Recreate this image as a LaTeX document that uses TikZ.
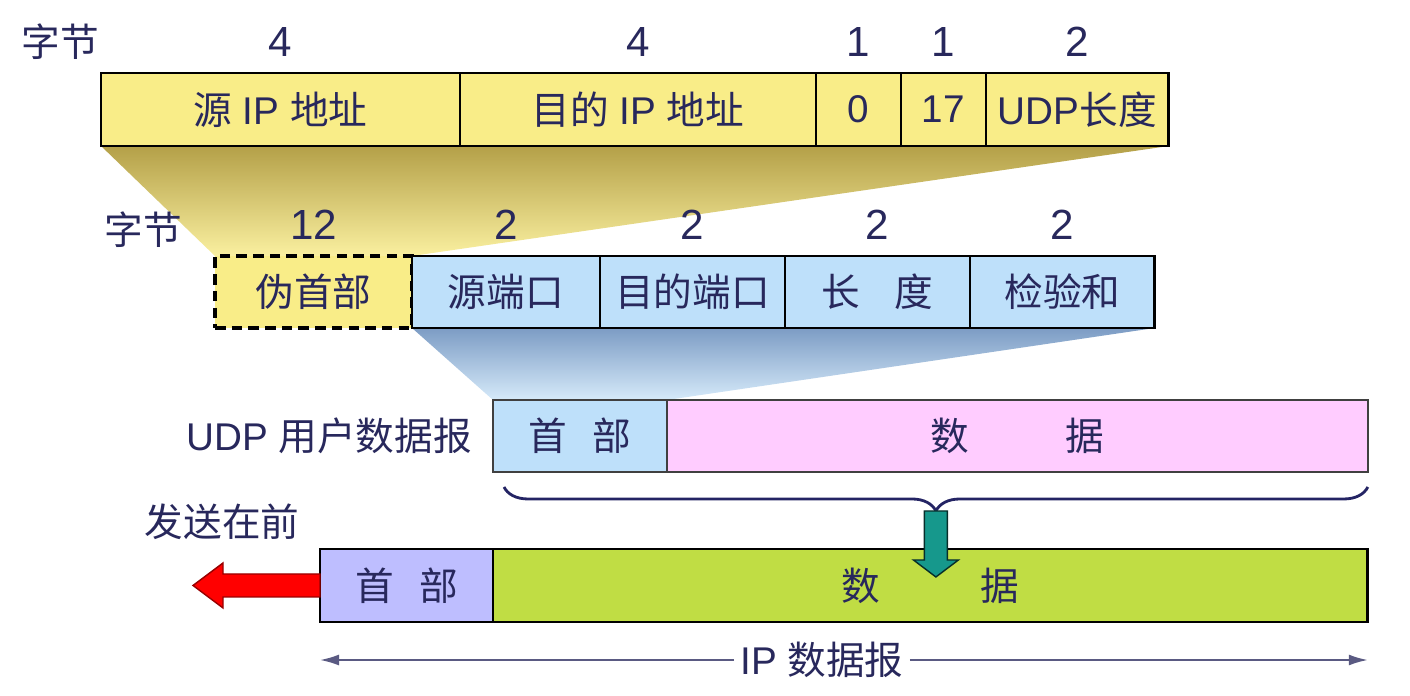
\documentclass[tikz,border=0pt]{standalone}
\usepackage{fontspec}
\setmainfont{Liberation Sans}
\newfontfamily\cjk{Noto Sans CJK SC}
\usetikzlibrary{positioning, arrows.meta, backgrounds, decorations.pathreplacing}

\definecolor{ink}{RGB}{40,40,92}
\definecolor{ipyellow}{RGB}{249,237,136}
\definecolor{udpblue}{RGB}{190,224,250}
\definecolor{datapink}{RGB}{255,204,255}
\definecolor{hdrlilac}{RGB}{190,190,255}
\definecolor{datagreen}{RGB}{192,221,68}
\definecolor{arrowteal}{RGB}{22,152,140}
\definecolor{bracenavy}{RGB}{36,36,100}
\definecolor{dimgray}{RGB}{90,90,130}

\begin{document}
\begin{tikzpicture}[x=0.02cm, y=-0.02cm,
    cell/.style={draw, line width=0.8pt, anchor=north west, outer sep=0pt, inner sep=0pt,
      minimum height=1.46cm, text=ink, font=\fontsize{22}{26}\selectfont},
    num/.style={text=ink, inner sep=0pt, font=\fontsize{24}{28}\selectfont},
    lbl/.style={text=ink, font=\fontsize{22}{26}\selectfont},
    frame/.style={draw, line width=1.6pt},
    brace/.style={decorate, decoration={brace, mirror, amplitude=0.48cm}, draw=bracenavy, line width=1.6pt},
    block/.style={line width=0.8pt, line join=miter},
    dim/.style={draw=dimgray, line width=1.1pt, -{Latex[length=0.38cm, width=0.22cm]}}
  ]
  \useasboundingbox (0,0) rectangle (1410,696);

  % pseudo header fields
  \node[cell, fill=ipyellow, minimum width=7.18cm] (srcip)  at (101,73)           {{\cjk 源} IP {\cjk 地址}};
  \node[cell, fill=ipyellow, minimum width=7.12cm] (dstip)  at (srcip.north east) {{\cjk 目的} IP {\cjk 地址}};
  \node[cell, fill=ipyellow, minimum width=1.70cm] (zero)   at (dstip.north east) {0};
  \node[cell, fill=ipyellow, minimum width=1.70cm] (proto)  at (zero.north east)  {17};
  \node[cell, fill=ipyellow, minimum width=3.66cm] (udplen) at (proto.north east) {UDP{\cjk 长度}};
  \draw[frame] (srcip.north west) rectangle (udplen.south east);

  \node[lbl] (bytes1) at (60,42) {\cjk 字节};
  \node[num, above=0.32cm of srcip]  {4};
  \node[num, above=0.32cm of dstip]  {4};
  \node[num, above=0.32cm of zero]   {1};
  \node[num, above=0.32cm of proto]  {1};
  \node[num, above=0.32cm of udplen] {2};

  % UDP header
  \node[cell, fill=ipyellow, line width=1.8pt, dash pattern=on 6pt off 3.5pt, minimum width=3.94cm, minimum height=1.44cm]
    (pseudo) at (215,256) {\cjk 伪首部};
  \node[cell, fill=udpblue, minimum width=3.76cm, minimum height=1.44cm] (srcport)  at (pseudo.north east)  {\cjk 源端口};
  \node[cell, fill=udpblue, minimum width=3.70cm, minimum height=1.44cm] (dstport)  at (srcport.north east) {\cjk 目的端口};
  \node[cell, fill=udpblue, minimum width=3.70cm, minimum height=1.44cm] (length)   at (dstport.north east) {\cjk 长\hspace{0.9em}度};
  \node[cell, fill=udpblue, minimum width=3.70cm, minimum height=1.44cm] (checksum) at (length.north east)  {\cjk 检验和};
  \draw[frame] (srcport.north west) rectangle (checksum.south east);

  \node[lbl] (bytes2) at (143,230) {\cjk 字节};
  \node[num, above=0.32cm of pseudo]   {12};
  \node[num, above=0.32cm of srcport]  {2};
  \node[num, above=0.32cm of dstport]  {2};
  \node[num, above=0.32cm of length]   {2};
  \node[num, above=0.32cm of checksum] {2};

  % UDP datagram
  \node[cell, fill=udpblue, draw=black!75, minimum width=3.48cm, minimum height=1.44cm] (udphdr) at (493,400) {\cjk 首\hspace{0.65em}部};
  \node[cell, fill=datapink, draw=black!75, minimum width=14.02cm, minimum height=1.44cm] (udpdata) at (udphdr.north east) {\cjk 数\hspace{2.5em}据};
  \draw[draw=black!75, line width=1pt] (udphdr.north west) rectangle (udpdata.south east);
  \node[lbl, left=0.3cm of udphdr] (udplabel) {UDP {\cjk 用户数据报}};

  % IP datagram
  \node[cell, fill=hdrlilac, minimum width=3.46cm] (iphdr) at (320,549) {\cjk 首\hspace{0.65em}部};
  \node[cell, fill=datagreen, minimum width=17.50cm] (ipdata) at (iphdr.north east) {\cjk 数\hspace{2.6em}据};
  \draw[frame] (iphdr.north west) rectangle (ipdata.south east);
  \node[lbl] (sendfirst) at (222,522) {\cjk 发送在前};

  % shadows between the rows
  \begin{scope}[on background layer]
    \shade[top color={rgb,255:red,180;green,160;blue,72}, bottom color={rgb,255:red,250;green,240;blue,160}]
      (srcip.south west) -- (udplen.south east) -- (pseudo.north east) -- (pseudo.north west) -- cycle;
    \shade[top color={rgb,255:red,124;green,156;blue,196}, bottom color={rgb,255:red,214;green,234;blue,250}]
      (srcport.south west) -- (checksum.south east) -- (udphdr.north east) -- (udphdr.north west) -- cycle;
  \end{scope}

  % brace and arrows
  \draw[brace] ([xshift=0.22cm, yshift=-0.3cm]udphdr.south west) -- ([yshift=-0.3cm]udpdata.south east)
    coordinate[pos=0.5, yshift=-0.48cm] (bracetip);
  \draw[block, draw=black!70!arrowteal, fill=arrowteal] (bracetip) ++(-11.5,0) -- ++(0,49) -- ++(-11,0)
    -- ++(22.5,17) -- ++(22.5,-17) -- ++(-11,0) -- ++(0,-49) -- cycle;
  \draw[block, draw=red!60!black, fill=red] (iphdr.west) ++(0,-11.5) -- ++(-97,0) -- ++(0,-11)
    -- ++(-30,22.5) -- ++(30,22.5) -- ++(0,-11) -- ++(97,0) -- cycle;

  \node[lbl] (iplabel) at (822,660) {IP {\cjk 数据报}};
  \draw[dim] (iplabel.west) -- (iplabel.west -| iphdr.west);
  \draw[dim] (iplabel.east) -- (iplabel.east -| ipdata.east);
\end{tikzpicture}
\end{document}
